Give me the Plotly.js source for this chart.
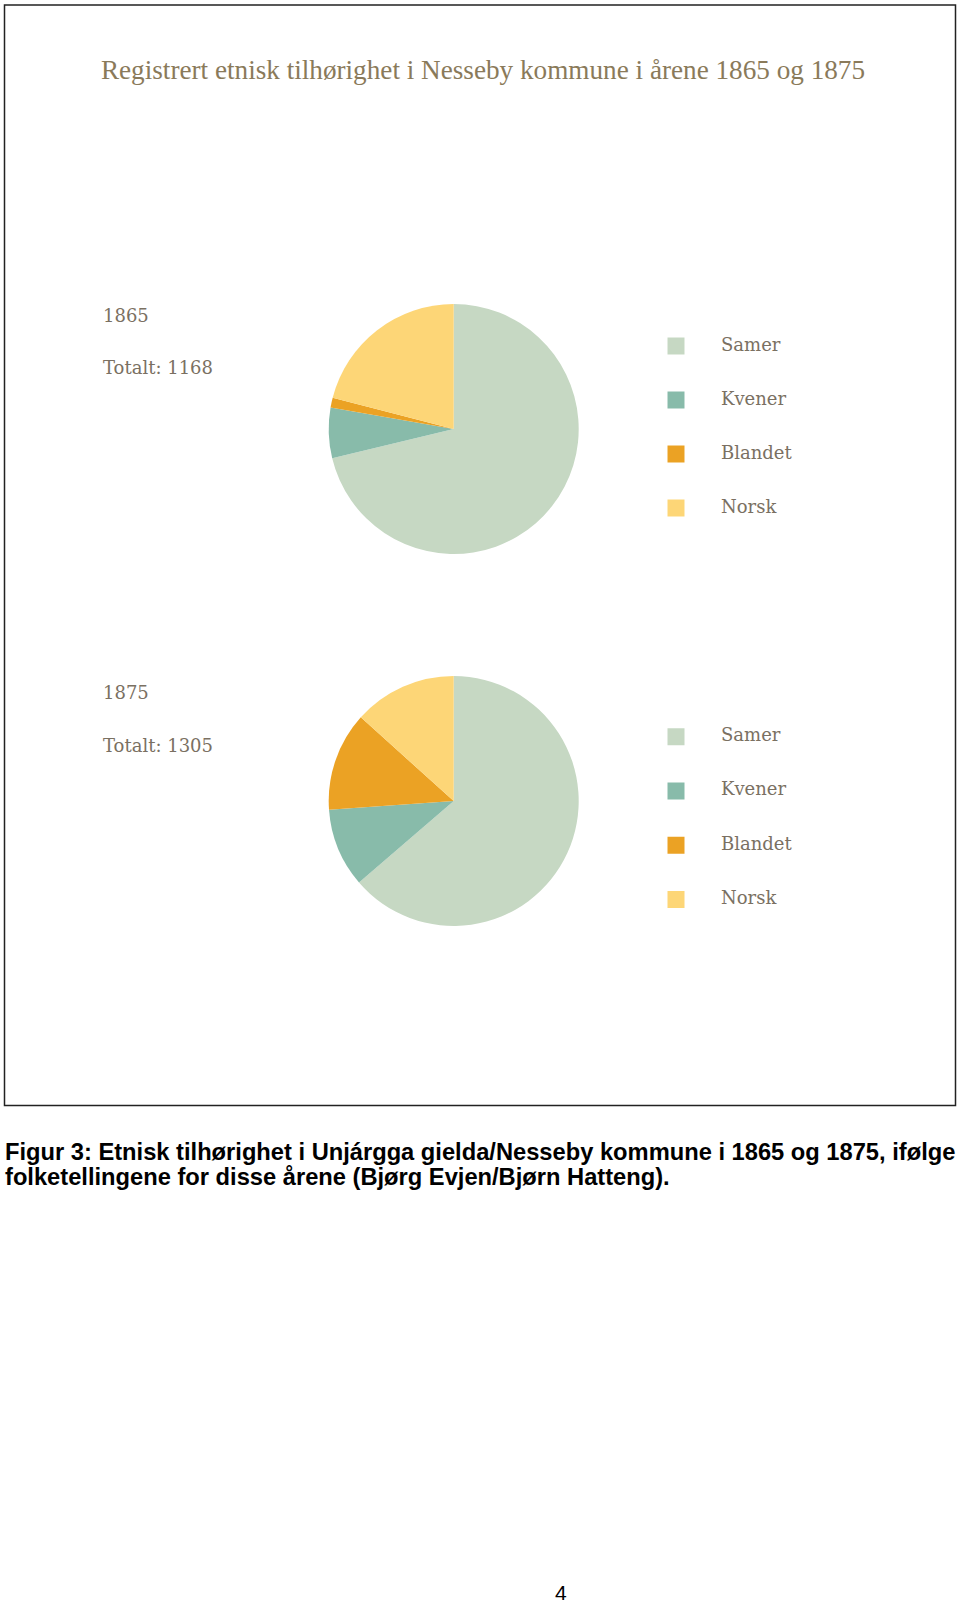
<!DOCTYPE html>
<html>
<head>
<meta charset="utf-8">
<script src="https://cdn.plot.ly/plotly-3.0.1.min.js"></script>
<style>
  html, body { margin: 0; padding: 0; background: #ffffff; }
  #chart { width: 960px; height: 1605px; }
</style>
</head>
<body>
<div id="chart"></div>
<script>
// ---- Data ----
const categories = ['Samer', 'Kvener', 'Blandet', 'Norsk'];
const years = ['1865', '1875'];
const values1865 = [832, 76, 15, 245];
const values1875 = [831, 133, 167, 174];
const sliceColors = ['#c6d8c3', '#88bbaa', '#eba224', '#fdd677'];
const chartTitle = 'Registrert etnisk tilhørighet i Nesseby kommune i årene 1865 og 1875';
const captionLines = [
  'Figur 3: Etnisk tilhørighet i Unjárgga gielda/Nesseby kommune i 1865 og 1875, ifølge',
  'folketellingene for disse årene (Bjørg Evjen/Bjørn Hatteng).'
];
const pageNumber = '4';

// ---- Layout helpers (pixel -> paper) ----
const W = 960, H = 1605;
const px = v => v / W;
const py = v => 1 - v / H;
const sum = a => a.reduce((s, v) => s + v, 0);

const titleColor = '#8a7a5a';
const labelColor = '#7a7062';
const serif = 'DejaVu Serif, serif';
const sans = 'Liberation Sans, Arial, sans-serif';

function pieTrace(values, yTop, yBot) {
  return {
    type: 'pie',
    labels: categories,
    values: values,
    sort: false,
    direction: 'clockwise',
    rotation: 0,
    textinfo: 'none',
    hoverinfo: 'label+value+percent',
    marker: { colors: sliceColors, line: { width: 0 } },
    domain: { x: [px(328.7), px(578.7)], y: [py(yBot), py(yTop)] },
    showlegend: false
  };
}

function legendTraces(xa, ya) {
  return [
    {
      type: 'scatter', mode: 'markers',
      x: categories.map(() => 0), y: categories,
      xaxis: xa, yaxis: ya,
      marker: { symbol: 'square', size: 17, color: sliceColors },
      hoverinfo: 'skip', showlegend: false
    },
    {
      type: 'scatter', mode: 'text',
      x: categories.map(() => 1), y: categories,
      xaxis: xa, yaxis: ya,
      text: categories, textposition: 'middle right',
      textfont: { family: serif, size: 18, color: labelColor },
      hoverinfo: 'skip', showlegend: false
    }
  ];
}

const data = [
  pieTrace(values1865, 304, 554),
  pieTrace(values1875, 676, 926),
  ...legendTraces('x', 'y'),
  ...legendTraces('x2', 'y2')
];

const hiddenAxis = {
  showgrid: false, zeroline: false, showticklabels: false, showline: false,
  ticks: '', fixedrange: true
};
const legX = { ...hiddenAxis, range: [-16 / 45, -16 / 45 + 240 / 45] };
const legY = { ...hiddenAxis, type: 'category', categoryorder: 'array',
  categoryarray: categories, range: [3.5, -0.5] };

function ann(text, x, y, font, xanchor) {
  return {
    text: text, x: px(x), y: py(y), xref: 'paper', yref: 'paper',
    xanchor: xanchor || 'left', yanchor: 'middle', showarrow: false,
    font: font
  };
}

const labelFont = { family: serif, size: 18, color: labelColor };
const captionFont = { family: sans, size: 23.7, color: '#000000', weight: 'bold' };

const annotations = [
  ann(years[0], 101, 315.5, labelFont),
  ann('Totalt: ' + sum(values1865), 101, 367, labelFont),
  ann(years[1], 101, 692, labelFont),
  ann('Totalt: ' + sum(values1875), 101, 745.5, labelFont),
  ann(captionLines[0], 3, 1151.5, captionFont),
  ann(captionLines[1], 3, 1177, captionFont),
  ann(pageNumber, 561, 1592.5, { family: sans, size: 21, color: '#000000' }, 'center')
];

const layout = {
  width: W, height: H,
  margin: { l: 0, r: 0, t: 0, b: 0 },
  paper_bgcolor: '#ffffff', plot_bgcolor: 'rgba(0,0,0,0)',
  showlegend: false,
  title: {
    text: chartTitle,
    x: px(483), xref: 'paper', xanchor: 'center',
    y: py(69), yref: 'container', yanchor: 'middle',
    font: { family: 'Liberation Serif, serif', size: 27.2, color: titleColor }
  },
  xaxis: { ...legX, domain: [px(660), px(900)] },
  yaxis: { ...legY, domain: [py(535), py(319)] },
  xaxis2: { ...legX, domain: [px(660), px(900)], anchor: 'y2' },
  yaxis2: { ...legY, domain: [py(926.5), py(709.5)], anchor: 'x2' },
  shapes: [{
    type: 'rect', xref: 'paper', yref: 'paper',
    x0: px(4.5), x1: px(955.5), y0: py(1105.5), y1: py(5),
    line: { color: '#222222', width: 1.5 }, fillcolor: 'rgba(0,0,0,0)'
  }],
  annotations: annotations
};

Plotly.newPlot('chart', data, layout, { displayModeBar: false, staticPlot: true });
</script>
</body>
</html>
